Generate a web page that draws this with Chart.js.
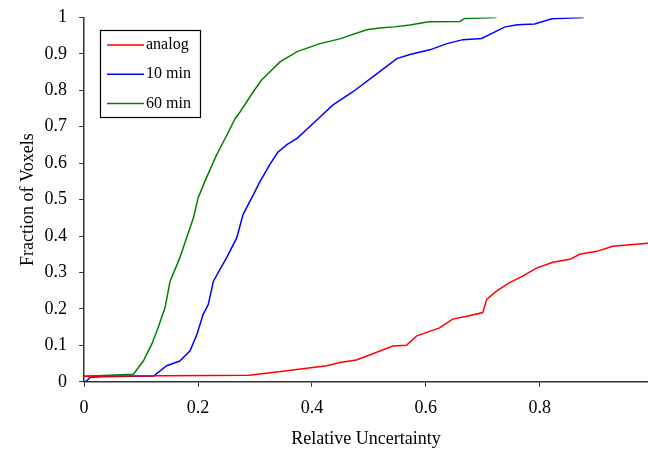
<!DOCTYPE html>
<html>
<head>
<meta charset="utf-8">
<script src="https://cdn.jsdelivr.net/npm/chart.js@4"></script>
<style>
  html, body { margin: 0; padding: 0; background: #fff; }
  #chart { display: block; }
</style>
</head>
<body>
<canvas id="chart" width="648" height="450"></canvas>
<script>
// values
const seriesNames = ['analog', '10 min', '60 min'];
const seriesColors = ['#ff0000', '#0000ff', '#008000'];

const analogX = [0, 0.29, 0.356, 0.426, 0.449, 0.478, 0.507, 0.542, 0.566, 0.584, 0.624, 0.647, 0.672, 0.7, 0.707, 0.724, 0.747, 0.77, 0.794, 0.823, 0.853, 0.87, 0.9, 0.928, 0.99];
const analogY = [0.015, 0.018, 0.03, 0.044, 0.053, 0.06, 0.077, 0.098, 0.1, 0.126, 0.148, 0.172, 0.18, 0.19, 0.227, 0.249, 0.272, 0.29, 0.312, 0.328, 0.336, 0.35, 0.358, 0.372, 0.38];

const min10X = [0, 0.005, 0.01, 0.028, 0.122, 0.145, 0.168, 0.186, 0.198, 0.209, 0.218, 0.227, 0.25, 0.268, 0.279, 0.297, 0.309, 0.326, 0.34, 0.356, 0.374, 0.409, 0.437, 0.472, 0.519, 0.549, 0.572, 0.607, 0.637, 0.665, 0.698, 0.739, 0.761, 0.791, 0.821, 0.877];
const min10Y = [0, 0.003, 0.012, 0.014, 0.016, 0.044, 0.057, 0.085, 0.13, 0.185, 0.212, 0.276, 0.34, 0.395, 0.459, 0.513, 0.55, 0.596, 0.63, 0.651, 0.668, 0.719, 0.76, 0.796, 0.851, 0.887, 0.898, 0.911, 0.928, 0.939, 0.942, 0.974, 0.98, 0.982, 0.996, 1.0];

const min60X = [0, 0.0865, 0.104, 0.119, 0.13, 0.142, 0.151, 0.168, 0.18, 0.192, 0.2, 0.212, 0.233, 0.251, 0.265, 0.274, 0.297, 0.312, 0.344, 0.374, 0.414, 0.449, 0.496, 0.519, 0.544, 0.572, 0.605, 0.66, 0.668, 0.724];
const min60Y = [0.015, 0.021, 0.057, 0.104, 0.149, 0.203, 0.276, 0.34, 0.395, 0.45, 0.504, 0.55, 0.624, 0.678, 0.722, 0.741, 0.796, 0.829, 0.878, 0.906, 0.928, 0.941, 0.966, 0.971, 0.974, 0.979, 0.988, 0.989, 0.997, 1.0];

const xTicks = [0, 0.2, 0.4, 0.6, 0.8];
const yTicks = [0, 0.1, 0.2, 0.3, 0.4, 0.5, 0.6, 0.7, 0.8, 0.9, 1];

const FONT = '"Liberation Serif", "Times New Roman", serif';
const AXIS = '#333333';

function pts(xs, ys) {
    return xs.map((x, i) => ({ x: x, y: ys[i] }));
}

// legend box drawn inside the plot, like the original
const boxLegend = {
    id: 'boxLegend',
    afterDraw(chart) {
        const ctx = chart.ctx;
        const left = 100, top = 30, w = 100, h = 87;
        ctx.save();
        ctx.fillStyle = '#fff';
        ctx.fillRect(left, top, w, h);
        ctx.strokeStyle = '#000';
        ctx.lineWidth = 1.2;
        ctx.strokeRect(left + 0.5, top + 0.5, w, h);
        ctx.font = '16px ' + FONT;
        ctx.textBaseline = 'middle';
        chart.data.datasets.forEach((ds, i) => {
            const y = top + 15 + i * 29.2;
            ctx.strokeStyle = ds.borderColor;
            ctx.lineWidth = 1.5;
            ctx.beginPath();
            ctx.moveTo(left + 7, y);
            ctx.lineTo(left + 44, y);
            ctx.stroke();
            ctx.fillStyle = '#000';
            ctx.fillText(ds.label, left + 46, y);
        });
        ctx.restore();
    }
};

new Chart(document.getElementById('chart'), {
    type: 'line',
    data: {
        datasets: [
            { label: seriesNames[0], data: pts(analogX, analogY), borderColor: seriesColors[0] },
            { label: seriesNames[1], data: pts(min10X, min10Y), borderColor: seriesColors[1] },
            { label: seriesNames[2], data: pts(min60X, min60Y), borderColor: seriesColors[2] }
        ]
    },
    options: {
        responsive: false,
        animation: false,
        parsing: false,
        layout: { padding: { left: 17, right: 0, top: 4, bottom: 0 } },
        elements: {
            line: { borderWidth: 1.5, tension: 0, fill: false },
            point: { radius: 0 }
        },
        plugins: {
            legend: { display: false },
            tooltip: { enabled: false }
        },
        scales: {
            x: {
                type: 'linear',
                min: 0,
                max: 0.99,
                afterBuildTicks: s => { s.ticks = xTicks.map(v => ({ value: v })); },
                grid: { drawOnChartArea: false, tickLength: 5, color: AXIS, tickColor: AXIS },
                border: { color: AXIS, width: 1.5 },
                ticks: { color: '#000', font: { family: FONT, size: 18 }, padding: 11, maxRotation: 0,
                         callback: v => String(+(+v).toFixed(1)) },
                title: { display: true, text: 'Relative Uncertainty', color: '#000', font: { family: FONT, size: 18 }, padding: { top: -2, bottom: 0 } }
            },
            y: {
                type: 'linear',
                min: 0,
                max: 1,
                afterBuildTicks: s => { s.ticks = yTicks.map(v => ({ value: v })); },
                grid: { drawOnChartArea: false, tickLength: 5, color: AXIS, tickColor: AXIS },
                border: { color: AXIS, width: 1.5 },
                ticks: { color: '#000', font: { family: FONT, size: 18, lineHeight: 0.6 }, padding: 12,
                         callback: v => String(+(+v).toFixed(1)) },
                title: { display: true, text: 'Fraction of Voxels', color: '#000', font: { family: FONT, size: 18 }, padding: { top: 0, bottom: -6 } }
            }
        }
    },
    plugins: [boxLegend]
});
</script>
</body>
</html>
